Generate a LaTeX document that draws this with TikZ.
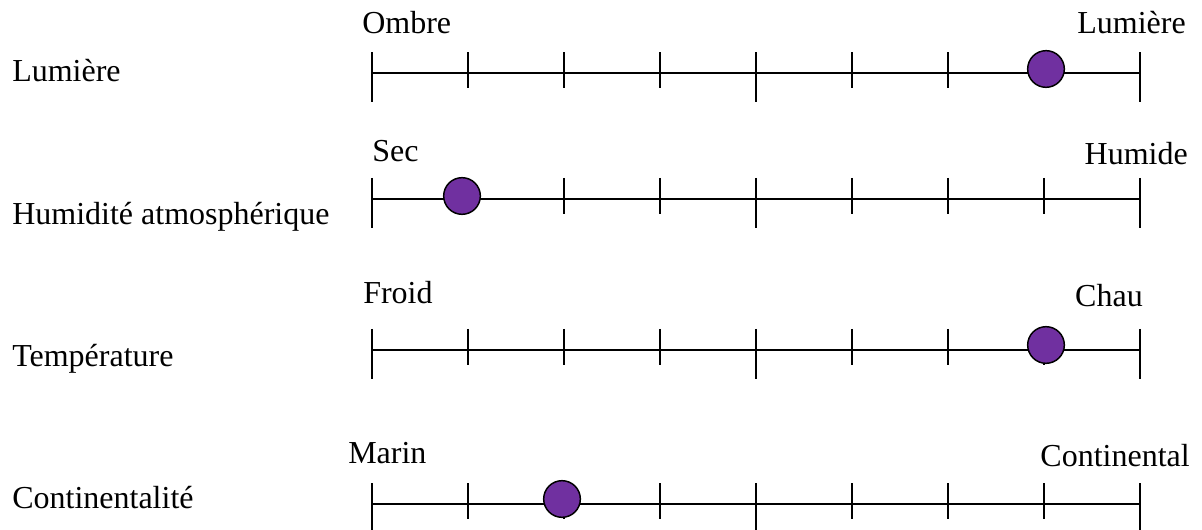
\documentclass[tikz,border=0pt]{standalone}
\usepackage{fontspec}
\setmainfont{Liberation Serif}
\definecolor{dotpurple}{HTML}{7030A0}
\tikzset{
  lbl/.style={inner sep=0pt, font=\fontsize{24}{28}\selectfont},
  axis/.style={line width=1.5pt, line cap=butt},
  dot/.style={circle, draw=black, line width=1.1pt, fill=dotpurple, inner sep=0pt, minimum size=27.5pt},
}
\newcommand{\scalerow}[3]{% #1 name, #2 line y, #3 unused
  \draw[axis] (372,#2) coordinate (#1L) -- (1140,#2) coordinate (#1R);
  \foreach \tx in {372,756,1140} \draw[axis] (\tx,#2-21) -- (\tx,#2+29);
  \foreach \tx in {468,564,660,852,948,1044} \draw[axis] (\tx,#2-21) -- (\tx,#2+15);
}
\begin{document}
\begin{tikzpicture}[x=0.75pt,y=-0.75pt]
\useasboundingbox (0,0) rectangle (1202,530);
% row 1
\scalerow{a}{73.5}{}
\node[dot] (adot) at (1046,69) {};
\node[lbl, anchor=base west] (aname) at (12,82) {Lumière};
\node[lbl, anchor=base west] (alo) at (362,34) {Ombre};
\node[lbl, anchor=base east] (ahi) at (1186,34) {Lumière};
% row 2
\scalerow{b}{199}{}
\node[dot] (bdot) at (462,196) {};
\node[lbl, anchor=base west] (bname) at (12,225) {Humidité atmosphérique};
\node[lbl, anchor=base west] (blo) at (372,162) {Sec};
\node[lbl, anchor=base east] (bhi) at (1188,165) {Humide};
% row 3
\scalerow{c}{350}{}
\node[dot] (cdot) at (1046,345) {};
\node[lbl, anchor=base west] (cname) at (12,367) {Température};
\node[lbl, anchor=base west] (clo) at (363,304) {Froid};
\node[lbl, anchor=base east] (chi) at (1143,307) {Chau};
% row 4
\scalerow{d}{504}{}
\node[dot] (ddot) at (562,499) {};
\node[lbl, anchor=base west] (dname) at (12,508) {Continentalité};
\node[lbl, anchor=base west] (dlo) at (348,463) {Marin};
\node[lbl, anchor=base east] (dhi) at (1190,466) {Continental};
\end{tikzpicture}
\end{document}
